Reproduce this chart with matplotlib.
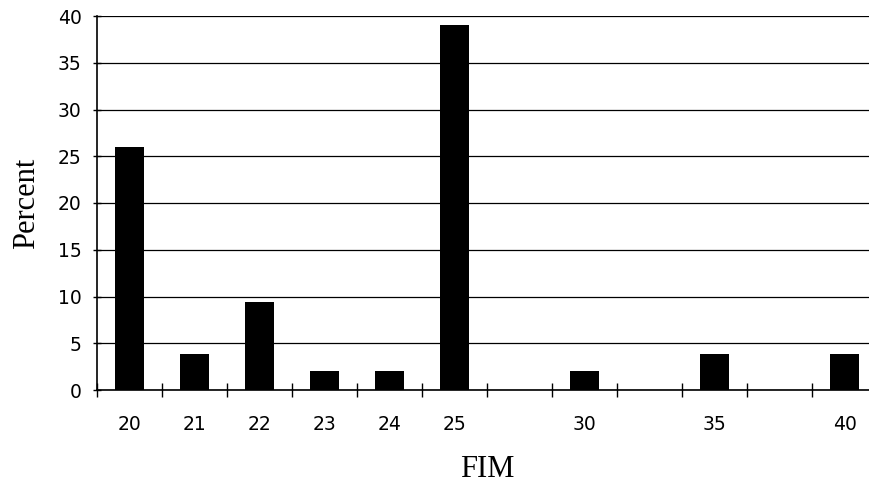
import matplotlib
matplotlib.use("Agg")
import matplotlib.pyplot as plt
import numpy as np

categories = ["20", "21", "22", "23", "24", "25", "", "30", "", "35", "", "40"]
percent = [26, 3.8, 9.4, 2, 2, 39, 0, 2, 0, 3.9, 0, 3.9]
yticks = [0, 5, 10, 15, 20, 25, 30, 35, 40]

fig = plt.figure(figsize=(8.69, 4.84), dpi=100)
ax = fig.add_axes([97/869, 1 - 390/484, 780/869, 374/484])

x = np.arange(len(categories))
ax.bar(x, percent, width=0.45, color="black", zorder=3)

ax.set_xlim(-0.5, len(categories) - 0.5)
ax.set_ylim(0, 40)
ax.set_yticks(yticks)
ax.yaxis.grid(True, color="black", linewidth=0.9, zorder=1)
ax.set_axisbelow(True)

for s in ["top", "right"]:
    ax.spines[s].set_visible(False)
ax.spines["left"].set_linewidth(1.2)
ax.spines["bottom"].set_linewidth(1.2)

ax.set_xticks(x)
ax.set_xticklabels(categories, fontfamily="DejaVu Sans", fontsize=13.5)
ax.tick_params(axis="x", which="major", length=0, pad=18)
ax.set_xticks(np.arange(len(categories) + 1) - 0.5, minor=True)
ax.tick_params(axis="x", which="minor", direction="inout", length=10, width=1)
ax.tick_params(axis="y", direction="inout", length=6, width=1, pad=8)
for lab in ax.get_yticklabels():
    lab.set_fontfamily("DejaVu Sans")
    lab.set_fontsize(13.5)

ax.set_ylabel("Percent", fontfamily="Liberation Serif", fontsize=22, labelpad=12)
ax.set_xlabel("FIM", fontfamily="Liberation Serif", fontsize=22, labelpad=15)

fig.savefig("out.png", dpi=100)
